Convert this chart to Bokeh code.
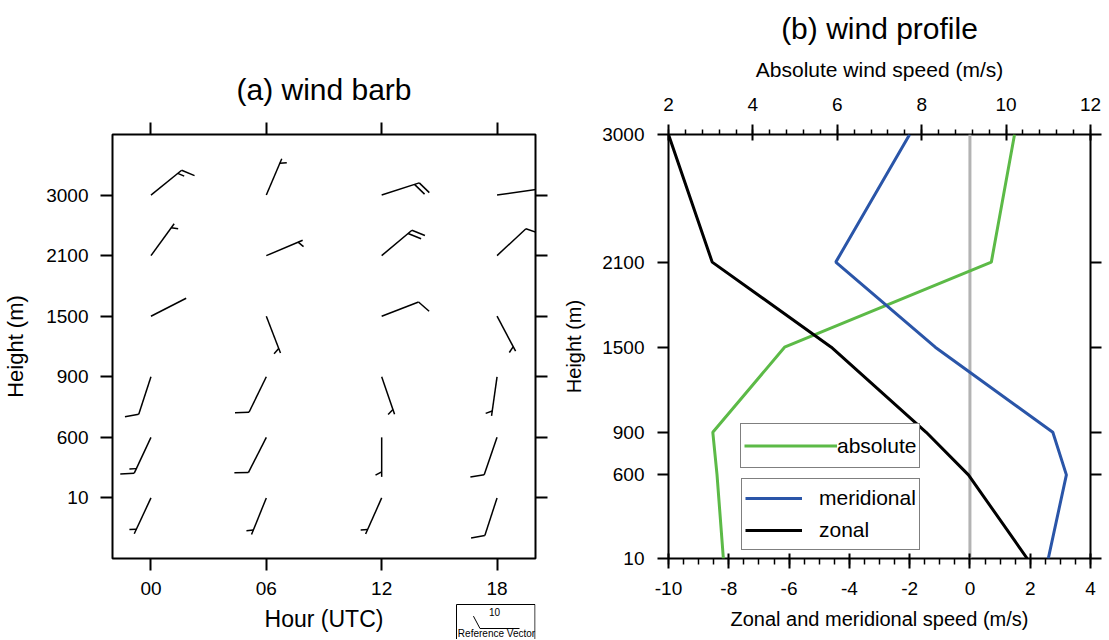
import numpy as np
from bokeh.plotting import figure
from bokeh.layouts import row, column
from bokeh.models import (Range1d, FixedTicker, LinearAxis, Legend, LegendItem, Span)
from bokeh.core.properties import value
from bokeh.embed import file_html
from bokeh.resources import INLINE

FONT = "Liberation Sans"

# ---------------- data ----------------
hours = ["00", "06", "12", "18"]
levels = ["10", "600", "900", "1500", "2100", "3000"]

# wind barbs: direction the wind blows from (deg) and speed, per level, for hours 00/06/12/18
dir_10 = [205, 202, 204, 198]
spd_10 = [5, 5, 5, 10]
dir_600 = [205, 207, 180, 199]
spd_600 = [15, 10, 5, 10]
dir_900 = [198, 206, 161, 188]
spd_900 = [10, 10, 5, 5]
dir_1500 = [63, 159, 69, 152]
spd_1500 = [2, 5, 10, 5]
dir_2100 = [36, 67, 50, 47]
spd_2100 = [5, 5, 20, 10]
dir_3000 = [51, 23, 72, 82]
spd_3000 = [15, 5, 20, 10]
ref_speed = 10

# wind profile
prof_heights = [10, 600, 900, 1500, 2100, 3000]
absolute = [3.3, 3.15, 3.05, 4.75, 9.65, 10.2]
meridional = [2.6, 3.2, 2.75, -1.15, -4.45, -2.0]
zonal = [1.9, -0.05, -1.45, -4.6, -8.55, -10.0]
zm_ticks = [-10, -8, -6, -4, -2, 0, 2, 4]
abs_ticks = [2, 4, 6, 8, 10, 12]

GREEN = "#5cba47"
BLUE = "#2a55a8"

# ---------------- barb geometry (pixels) ----------------
L_SHAFT, SPACING, FULL, HALF = 39.5, 5.0, 14.0, 7.0
ANG = np.radians(62)


def barb_segments(direction, speed):
    th = np.radians(direction)
    ux, uy = np.sin(th), np.cos(th)
    bx = ux * np.cos(ANG) + uy * np.sin(ANG)
    by = -ux * np.sin(ANG) + uy * np.cos(ANG)
    segs = [(0.0, 0.0, L_SHAFT * ux, L_SHAFT * uy)]
    n_full = int(speed // 10)
    half = (speed - 10 * n_full) >= 5
    k = 0
    for _ in range(n_full):
        d = L_SHAFT - k * SPACING
        segs.append((d * ux, d * uy, d * ux + FULL * bx, d * uy + FULL * by))
        k += 1
    if half:
        k = max(k, 1)
        d = L_SHAFT - k * SPACING
        segs.append((d * ux, d * uy, d * ux + HALF * bx, d * uy + HALF * by))
    return segs


def style_axis(ax, size="19px", tin=0, tout=10, label_size="22px"):
    ax.axis_line_color = None
    ax.major_tick_line_width = 2
    ax.major_tick_line_color = "black"
    ax.major_tick_in = tin
    ax.major_tick_out = tout
    ax.minor_tick_line_color = None
    ax.major_label_text_font = FONT
    ax.major_label_text_font_size = size
    ax.major_label_text_color = "black"
    ax.axis_label_text_font = FONT
    ax.axis_label_text_font_style = "normal"
    ax.axis_label_text_font_size = label_size
    ax.axis_label_text_color = "black"


def blank_axis(ticks, **kw):
    ax = LinearAxis(ticker=FixedTicker(ticks=ticks), **kw)
    style_axis(ax, size="1px", tout=12)
    ax.major_label_overrides = {t: "" for t in ticks}
    ax.major_label_standoff = 0
    return ax


def style_title(p, text, size, standoff):
    p.title.text = text
    p.title.align = "center"
    p.title.text_font = FONT
    p.title.text_font_size = size
    p.title.text_font_style = "normal"
    p.title.text_color = "black"
    p.title.standoff = standoff


# ---------------- left panel: wind barbs ----------------
BL1, BR1 = 112, 18
FW1, FH1 = 423, 424
x0, x1 = -1 / 3, 10 / 3
y0, y1 = -1, 6
p1 = figure(frame_width=FW1, frame_height=FH1, x_range=Range1d(x0, x1), y_range=Range1d(y0, y1),
            output_backend="svg", toolbar_location=None,
            min_border_left=BL1, min_border_right=BR1, min_border_top=134, min_border_bottom=45)
p1.grid.visible = False
p1.outline_line_color = "black"
p1.outline_line_width = 2
style_title(p1, "(a) wind barb", "30px", 33)
sx = FW1 / (x1 - x0)
sy = FH1 / (y1 - y0)

dirs = [dir_10, dir_600, dir_900, dir_1500, dir_2100, dir_3000]
spds = [spd_10, spd_600, spd_900, spd_1500, spd_2100, spd_3000]
X0, Y0, X1, Y1 = [], [], [], []
for li, (drow, srow) in enumerate(zip(dirs, spds)):
    for hi, (d, s) in enumerate(zip(drow, srow)):
        for (a, b, c, e) in barb_segments(d, s):
            X0.append(hi + a / sx)
            Y0.append(li + b / sy)
            X1.append(hi + c / sx)
            Y1.append(li + e / sy)
p1.segment(X0, Y0, X1, Y1, line_color="black", line_width=1.5)

p1.xaxis.ticker = FixedTicker(ticks=list(range(len(hours))))
p1.xaxis.major_label_overrides = {i: h for i, h in enumerate(hours)}
p1.yaxis.ticker = FixedTicker(ticks=list(range(len(levels))))
p1.yaxis.major_label_overrides = {i: l for i, l in enumerate(levels)}
p1.yaxis.axis_label = "Height (m)"
style_axis(p1.xaxis[0], tout=12)
style_axis(p1.yaxis[0], tout=12, label_size="22px")
p1.xaxis.major_label_standoff = 11
p1.yaxis.major_label_standoff = 12
p1.yaxis.axis_label_standoff = 15

p1.add_layout(blank_axis(list(range(len(hours)))), "above")
p1.add_layout(blank_axis(list(range(len(levels)))), "right")

# strip under the left panel (frame aligned with the panel): x-axis title and reference vector
SH = 36
strip = figure(frame_width=FW1, height=SH, x_range=Range1d(BL1, BL1 + FW1), y_range=Range1d(SH, 0),
               output_backend="svg", toolbar_location=None, min_border=0,
               min_border_left=BL1, min_border_right=BR1,
               x_axis_location=None, y_axis_location=None)
strip.grid.visible = False
strip.outline_line_color = None
strip.text(x=[BL1 + FW1 / 2], y=[15], text=["Hour (UTC)"], text_font=value(FONT),
           text_font_size="23px", text_align="center", text_baseline="middle", text_color="black")
strip.quad(left=[456], right=[534.5], top=[1], bottom=[45], fill_color=None,
           line_color="black", line_width=1)
ref_x, ref_y = 519, 25
rx0, ry0, rx1, ry1 = [], [], [], []
for (a, b, c, e) in barb_segments(270, ref_speed):
    rx0.append(ref_x + a)
    ry0.append(ref_y - b)
    rx1.append(ref_x + c)
    ry1.append(ref_y - e)
strip.segment(rx0, ry0, rx1, ry1, line_color="black", line_width=1)
strip.text(x=[494], y=[8], text=[str(ref_speed)], text_font=value(FONT), text_font_size="10px",
           text_align="center", text_baseline="middle", text_color="black")
strip.text(x=[496], y=[30], text=["Reference Vector"], text_font=value(FONT),
           text_font_size="10px", text_align="center", text_baseline="middle", text_color="black")

# ---------------- right panel: wind profile ----------------
FW2, FH2 = 422, 424
p2 = figure(frame_width=FW2, frame_height=FH2, x_range=Range1d(-10, 4), y_range=Range1d(10, 3000),
            output_backend="svg", toolbar_location=None,
            min_border_left=115, min_border_right=16, min_border_top=134, min_border_bottom=80)
p2.extra_x_ranges = {"abs": Range1d(2, 12)}
p2.grid.visible = False
p2.outline_line_color = "black"
p2.outline_line_width = 2
style_title(p2, "(b) wind profile", "30px", 19)

p2.add_layout(Span(location=0, dimension="height", line_color="#b3b3b3", line_width=3,
                   level="underlay"))
r_abs = p2.line(absolute, prof_heights, x_range_name="abs", line_color=GREEN, line_width=3)
r_mer = p2.line(meridional, prof_heights, line_color=BLUE, line_width=3)
r_zon = p2.line(zonal, prof_heights, line_color="black", line_width=3)

bx_ax = p2.xaxis[0]
bx_ax.ticker = FixedTicker(ticks=zm_ticks, minor_ticks=list(np.arange(-10, 4.01, 0.5)))
bx_ax.major_label_overrides = {t: str(t) for t in zm_ticks}
bx_ax.axis_label = "Zonal and meridional speed (m/s)"
style_axis(bx_ax, tin=5, tout=10, label_size="20px")
bx_ax.minor_tick_line_color = "black"
bx_ax.minor_tick_line_width = 1.5
bx_ax.minor_tick_in = 0
bx_ax.minor_tick_out = 6
bx_ax.major_label_standoff = 13
bx_ax.axis_label_standoff = 10

top2 = LinearAxis(x_range_name="abs", axis_label="Absolute wind speed (m/s)",
                  ticker=FixedTicker(ticks=abs_ticks,
                                     minor_ticks=list(np.arange(2, 12.01, 0.4))))
style_axis(top2, tin=6, tout=10, label_size="21px")
top2.minor_tick_line_color = "black"
top2.minor_tick_line_width = 1.5
top2.minor_tick_in = 0
top2.minor_tick_out = 5
top2.major_label_standoff = 14
top2.axis_label_standoff = 14
p2.add_layout(top2, "above")

ly = p2.yaxis[0]
ly.ticker = FixedTicker(ticks=prof_heights)
ly.axis_label = "Height (m)"
style_axis(ly, tin=0, tout=11, label_size="20px")
ly.major_label_standoff = 13
ly.axis_label_standoff = 14

right2 = blank_axis(prof_heights)
right2.major_tick_out = 11
p2.add_layout(right2, "right")

leg1 = Legend(items=[LegendItem(label="absolute", renderers=[r_abs])], location=(72, 90),
              padding=3, glyph_width=93, glyph_height=37, label_height=37, label_standoff=0,
              margin=0, border_line_color="black", border_line_width=1.5,
              label_text_font=FONT, label_text_font_size="21px", label_text_color="black",
              background_fill_color="white", background_fill_alpha=1)
leg2 = Legend(items=[LegendItem(label="meridional", renderers=[r_mer]),
                     LegendItem(label="zonal", renderers=[r_zon])], location=(73, 8),
              padding=3, glyph_width=57, glyph_height=32, label_height=32, label_standoff=17,
              spacing=0, margin=0, border_line_color="black", border_line_width=1.5,
              label_text_font=FONT, label_text_font_size="21px", label_text_color="black",
              background_fill_color="white", background_fill_alpha=1)
p2.add_layout(leg1)
p2.add_layout(leg2)

layout = row(column(p1, strip), p2)
open("out.html", "w").write(file_html(layout, INLINE))
